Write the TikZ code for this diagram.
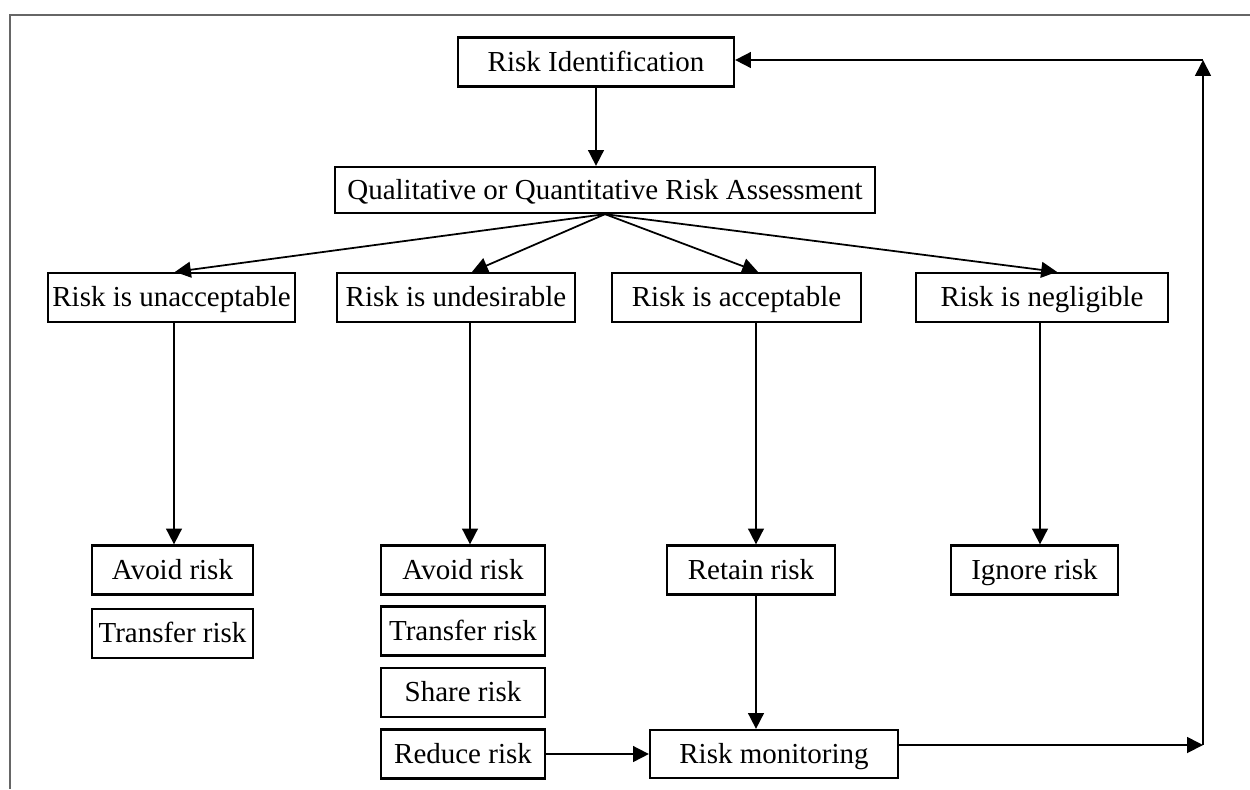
\documentclass[tikz,border=0pt]{standalone}
\usepackage{fontspec}
\setmainfont{Liberation Serif}
\usetikzlibrary{arrows.meta,positioning}

\tikzset{
  box/.style={draw,line width=1.3pt,minimum height=0.98cm,inner sep=2pt,
    text height=13pt,text depth=2.5pt,font=\fontsize{16.5}{20}\selectfont},
  arr/.style={-{Triangle[length=9pt,width=9pt]},line width=1pt},
}

\begin{document}
\begin{tikzpicture}[x=0.02cm,y=-0.02cm,node distance=0.24cm]
   \useasboundingbox (0,0) rectangle (1250,789);
   % frame
   \draw[gray!80!black,line width=0.8pt] (1250,15) -- (10,15) -- (10,789);

   \node[box,minimum width=5.52cm] (ident) at (596,62) {Risk Identification};
   \node[box,minimum width=10.8cm,minimum height=0.92cm] (assess) at (605,190) {Qualitative or Quantitative Risk Assessment};

   \node[box,minimum width=4.94cm] (unacc) at (171.5,297.5) {Risk is unacceptable};
   \node[box,minimum width=4.76cm] (undes) at (456,297.5) {Risk is undesirable};
   \node[box,minimum width=4.98cm] (accept) at (736.5,297.5) {Risk is acceptable};
   \node[box,minimum width=5.04cm] (neglig) at (1042,297.5) {Risk is negligible};

   \node[box,minimum width=3.22cm] (avoidA) at (172.5,570) {Avoid risk};
   \node[box,minimum width=3.22cm] (transA) [below=of avoidA] {Transfer risk};

   \node[box,minimum width=3.28cm] (avoidB) at (463,570) {Avoid risk};
   \node[box,minimum width=3.28cm] (transB) at (463,631) {Transfer risk};
   \node[box,minimum width=3.28cm] (shareB) at (463,692.5) {Share risk};
   \node[box,minimum width=3.28cm] (reduceB) at (463,754) {Reduce risk};

   \node[box,minimum width=3.36cm] (retain) at (751,570) {Retain risk};
   \node[box,minimum width=3.34cm] (ignore) at (1034.5,570) {Ignore risk};
   \node[box,minimum width=4.96cm,minimum height=0.96cm] (monitor) at (774,754) {Risk monitoring};

   \coordinate (loopB) at (1203,745);
   \coordinate (loopT) at (1203,60);

   \draw[arr] (ident) -- (ident.south |- assess.north);
   \draw[arr] (assess.south) -- ([xshift=0.07cm]unacc.north);
   \draw[arr] (assess.south) -- ([xshift=0.32cm]undes.north);
   \draw[arr] (assess.south) -- ([xshift=0.43cm]accept.north);
   \draw[arr] (assess.south) -- ([xshift=0.3cm]neglig.north);

   \draw[arr] ([xshift=0.05cm]unacc.south) -- ([xshift=0.05cm]unacc.south |- avoidA.north);
   \draw[arr] ([xshift=0.28cm]undes.south) -- ([xshift=0.28cm]undes.south |- avoidB.north);
   \draw[arr] ([xshift=0.39cm]accept.south) -- ([xshift=0.39cm]accept.south |- retain.north);
   \draw[arr] ([xshift=-0.04cm]neglig.south) -- ([xshift=-0.04cm]neglig.south |- ignore.north);

   \draw[arr] ([xshift=0.1cm]retain.south) -- ([xshift=0.1cm]retain.south |- monitor.north);
   \draw[arr] (reduceB) -- (monitor);
   \draw[arr] (monitor.east |- loopB) -- (loopB);
   \draw[arr] (loopB) -- (loopT);
   \draw[arr] (loopT) -- (ident.east |- loopT);
\end{tikzpicture}
\end{document}
